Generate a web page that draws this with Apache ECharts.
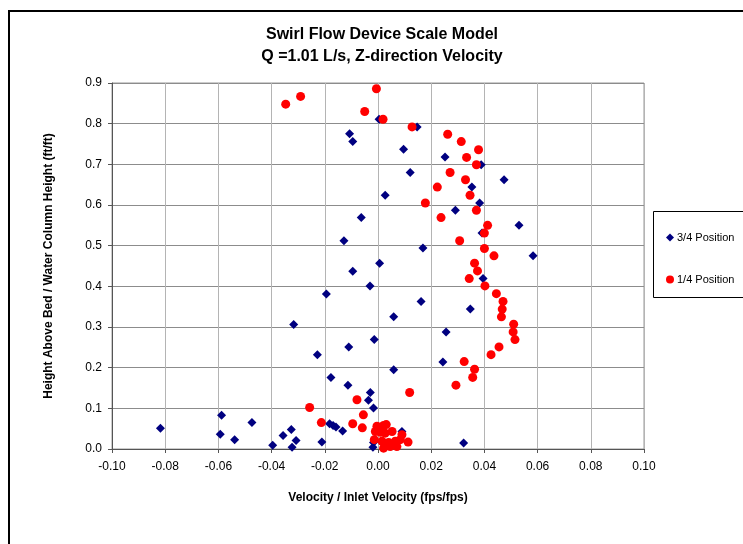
<!DOCTYPE html>
<html>
<head>
<meta charset="utf-8">
<style>html,body{margin:0;padding:0;background:#fff;}#c{width:743px;height:544px;}</style>
<script src="https://cdn.jsdelivr.net/npm/echarts@6/dist/echarts.min.js"></script>
</head>
<body>
<div id="c"></div>
<script>
var titleLines = ['Swirl Flow Device Scale Model', 'Q =1.01 L/s, Z-direction Velocity'];
var xAxisName = 'Velocity / Inlet Velocity (fps/fps)';
var yAxisName = 'Height Above Bed / Water Column Height (ft/ft)';
var seriesNames = ['3/4 Position', '1/4 Position'];
var xMin = -0.10, xMax = 0.10, xStep = 0.02;
var yMin = 0.0, yMax = 0.9, yStep = 0.1;

var pos34X = [-0.0107,-0.0095,0.0004,0.0147,0.0096,0.0252,0.0388,0.0121,0.0474,0.0353,0.0027,0.0382,0.0291,-0.0063,0.0530,0.0391,-0.0128,0.0169,0.0583,0.0006,-0.0095,0.0395,-0.0030,-0.0194,0.0162,0.0347,0.0059,-0.0317,0.0256,-0.0014,-0.0110,-0.0228,0.0244,0.0059,-0.0177,-0.0113,-0.0029,-0.0036,-0.0017,-0.0588,-0.0474,-0.0182,-0.0169,-0.0158,-0.0818,-0.0326,-0.0133,0.0090,-0.0593,-0.0357,-0.0539,-0.0013,-0.0308,-0.0211,-0.0017,0.0322,-0.0396,-0.0323,-0.0019];
var pos34Y = [0.775,0.756,0.811,0.792,0.737,0.718,0.699,0.680,0.662,0.644,0.624,0.605,0.587,0.569,0.550,0.531,0.512,0.494,0.475,0.457,0.437,0.419,0.401,0.381,0.363,0.344,0.325,0.306,0.288,0.269,0.251,0.232,0.214,0.195,0.176,0.157,0.139,0.120,0.101,0.083,0.065,0.062,0.058,0.054,0.051,0.048,0.044,0.043,0.036,0.033,0.023,0.023,0.021,0.017,0.016,0.015,0.009,0.004,0.004];

var pos14X = [-0.0347,-0.0291,-0.0050,-0.0006,0.0019,0.0128,0.0262,0.0313,0.0378,0.0333,0.0370,0.0271,0.0329,0.0223,0.0346,0.0178,0.0370,0.0237,0.0412,0.0400,0.0307,0.0400,0.0436,0.0363,0.0374,0.0343,0.0402,0.0445,0.0470,0.0467,0.0464,0.0510,0.0508,0.0515,0.0455,0.0425,0.0324,0.0363,0.0356,0.0293,0.0119,-0.0079,-0.0257,-0.0055,-0.0213,-0.0095,-0.0059,-0.0004,0.0021,0.0031,-0.0010,0.0009,0.0027,0.0053,-0.0014,0.0015,0.0040,0.0065,0.0084,0.0090,0.0113,0.0021,0.0046,0.0071];
var pos14Y = [0.848,0.867,0.830,0.886,0.811,0.792,0.774,0.756,0.736,0.717,0.699,0.680,0.662,0.644,0.624,0.605,0.587,0.569,0.550,0.531,0.512,0.493,0.475,0.457,0.438,0.419,0.401,0.382,0.363,0.344,0.325,0.307,0.288,0.269,0.251,0.232,0.215,0.196,0.176,0.157,0.139,0.121,0.102,0.084,0.065,0.062,0.052,0.056,0.058,0.060,0.043,0.041,0.039,0.043,0.023,0.019,0.016,0.019,0.023,0.035,0.017,0.002,0.006,0.006];

function pairs(xs, ys) { return xs.map(function (x, i) { return [x, ys[i]]; }); }

var chart = echarts.init(document.getElementById('c'), null, {renderer: 'canvas'});
var FONT = 'Liberation Sans, Arial, sans-serif';
chart.setOption({
  animation: false,
  backgroundColor: '#ffffff',
  textStyle: {fontFamily: FONT},
  title: {
    text: titleLines.join('\n'),
    left: 377, top: 19, textAlign: 'center',
    textStyle: {fontFamily: FONT, fontSize: 16, fontWeight: 'bold', color: '#000', lineHeight: 22}
  },
  grid: {left: 112, right: 99, top: 83, bottom: 95, show: true, borderColor: '#999', borderWidth: 1},
  legend: {
    orient: 'vertical', left: 661, top: 227, itemGap: 31,
    itemWidth: 8, itemHeight: 8,
    textStyle: {fontFamily: FONT, fontSize: 11, color: '#000', padding: [0, 0, 0, -2]},
    data: [{name: seriesNames[0], icon: 'diamond'}, {name: seriesNames[1], icon: 'circle'}]
  },
  graphic: [
    {type: 'rect', shape: {x: 9, y: 11, width: 780, height: 600}, style: {fill: 'none', stroke: '#000', lineWidth: 2}, silent: true},
    {type: 'rect', shape: {x: 653.5, y: 211.5, width: 120, height: 86}, style: {fill: 'none', stroke: '#000', lineWidth: 1}, silent: true}
  ],
  xAxis: {
    type: 'value', min: xMin, max: xMax, interval: xStep,
    name: xAxisName, nameLocation: 'middle', nameGap: 43,
    nameTextStyle: {fontFamily: FONT, fontSize: 12, fontWeight: 'bold', color: '#000'},
    axisLine: {show: true, onZero: false, lineStyle: {color: '#555', width: 1}},
    axisTick: {show: true, length: 4, lineStyle: {color: '#555'}},
    axisLabel: {fontFamily: FONT, fontSize: 12, color: '#000', margin: 12, formatter: function (v) { return v.toFixed(2); }},
    splitLine: {show: true, lineStyle: {color: '#b4b4b4', width: 1}}
  },
  yAxis: {
    type: 'value', min: yMin, max: yMax, interval: yStep,
    name: yAxisName, nameLocation: 'middle', nameGap: 57, nameRotate: 90,
    nameTextStyle: {fontFamily: FONT, fontSize: 12, fontWeight: 'bold', color: '#000'},
    axisLine: {show: true, onZero: false, lineStyle: {color: '#555', width: 1}},
    axisTick: {show: true, length: 4, lineStyle: {color: '#555'}},
    axisLabel: {fontFamily: FONT, fontSize: 12, color: '#000', margin: 10, formatter: function (v) { return v.toFixed(1); }},
    splitLine: {show: true, lineStyle: {color: '#8c8c8c', width: 1}}
  },
  series: [
    {name: seriesNames[0], type: 'scatter', symbol: 'diamond', symbolSize: 9,
     itemStyle: {color: '#000080', opacity: 1}, data: pairs(pos34X, pos34Y), z: 2},
    {name: seriesNames[1], type: 'scatter', symbol: 'circle', symbolSize: 9,
     itemStyle: {color: '#ff0000', opacity: 1}, data: pairs(pos14X, pos14Y), z: 3}
  ]
});
</script>
</body>
</html>
